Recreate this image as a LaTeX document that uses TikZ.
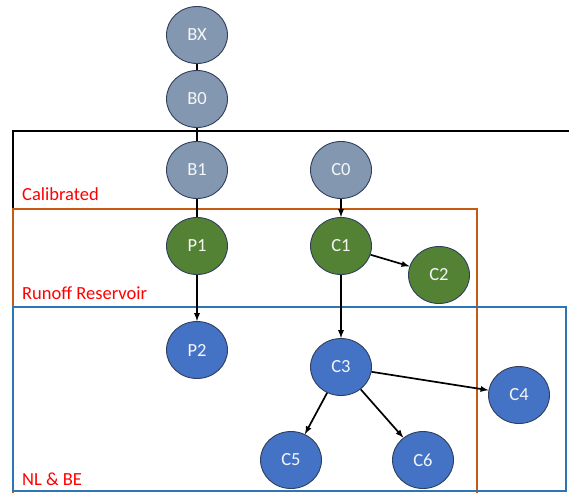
\documentclass[tikz,border=0pt]{standalone}
\usepackage{fontspec}
\setmainfont{Carlito}
\usepackage{tikz}
\usetikzlibrary{arrows,shapes.geometric}
\definecolor{slate}{HTML}{8497B0}
\definecolor{leaf}{HTML}{548235}
\definecolor{sea}{HTML}{4472C4}
\definecolor{rim}{HTML}{2F3F5C}
\definecolor{rust}{HTML}{C55A11}
\definecolor{sky}{HTML}{2E75B6}
\begin{document}
\begin{tikzpicture}[x=1pt,y=-1pt,
    bub/.style={ellipse,draw=rim,line width=0.9pt,minimum width=61pt,minimum height=57pt,inner sep=0pt,text=white!92!slate,font=\fontsize{18.5}{22}\selectfont},
    grp/.style={anchor=base west,inner sep=0pt,text=red,font=\fontsize{18.5}{22}\selectfont},
    link/.style={line width=1.7pt,black}]
                      \useasboundingbox (0,0) rectangle (569,492);
                      % frames
                      \draw[line width=2.6pt,black] (13,495)--(13,131)--(572,131);
                      \draw[line width=2.2pt,rust] (13,209) rectangle (477,497);
                      \draw[line width=2pt,sky] (13,307) rectangle (566,491);
                      \node[grp](cal)at(22,200){Calibrated};
                      \node[grp](run)at(22,299){Runoff Reservoir};
                      \node[grp](nlbe)at(22,485){NL \& BE};
                      % nodes
                      \foreach \n/\x/\y in {BX/197/35, B0/197/99, B1/197/170, C0/341/170}
                        \node[bub,fill=slate](\n)at(\x,\y){\n};
                      \foreach \n/\x/\y in {P1/197/246, C1/341/246, C2/439/275}
                        \node[bub,fill=leaf](\n)at(\x,\y){\n};
                      \foreach \n/\x/\y in {P2/197/350, C3/341/367, C4/519/395, C5/291/460, C6/423/460}
                        \node[bub,fill=sea](\n)at(\x,\y){\n};
                      % links
                      \draw[link](BX)--(B0);
                      \draw[link](B0)--(B1);
                      \draw[link](B1)--(P1);
                      \foreach \a/\b in {C0/C1, P1/P2, C1/C2, C1/C3, C3/C4, C3/C5, C3/C6}
                        \draw[link,-latex](\a)--(\b);
                  \end{tikzpicture}
\end{document}
